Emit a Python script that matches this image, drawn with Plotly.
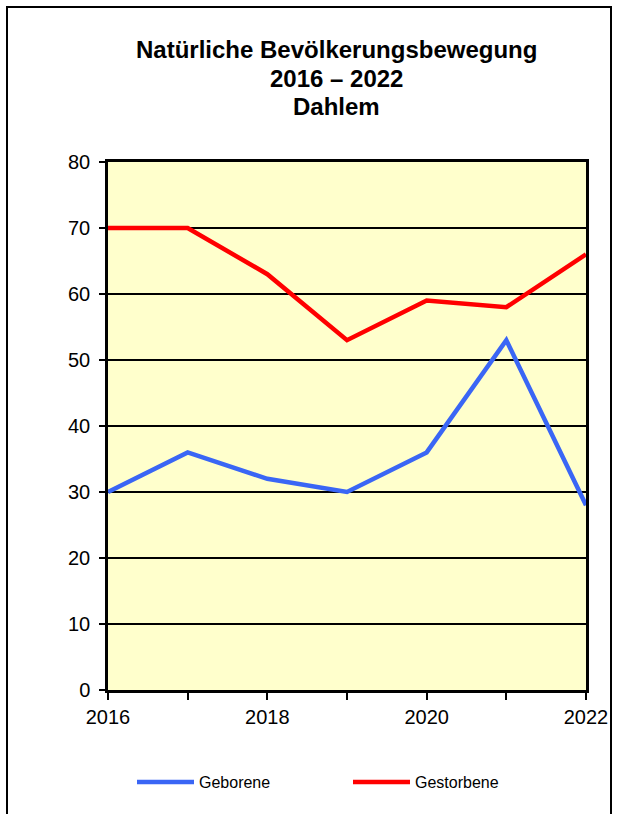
import plotly.graph_objects as go

years = [2016, 2017, 2018, 2019, 2020, 2021, 2022]
geborene = [30, 36, 32, 30, 36, 53, 28]
gestorbene = [70, 70, 63, 53, 59, 58, 66]
title_lines = ["Natürliche Bevölkerungsbewegung", "2016 – 2022", "Dahlem"]
title_y = [50, 79, 107]

W, H = 621, 814
L, R, T, B = 108, 586, 162, 690

fig = go.Figure()
fig.add_trace(go.Scatter(x=years, y=geborene, mode="lines", name="Geborene",
                         line=dict(color="#3A66F5", width=4.5), cliponaxis=False,
                         legend="legend"))
fig.add_trace(go.Scatter(x=years, y=gestorbene, mode="lines", name="Gestorbene",
                         line=dict(color="#FF0000", width=4.5), cliponaxis=False,
                         legend="legend2"))

leg_common = dict(xref="container", yref="container", xanchor="left", yanchor="middle",
                  font=dict(size=16, color="black"), bgcolor="rgba(0,0,0,0)",
                  itemwidth=57, borderwidth=0)
fig.update_layout(
    width=W, height=H,
    margin=dict(l=L, r=W - R, t=T, b=H - B, pad=0, autoexpand=False),
    paper_bgcolor="white", plot_bgcolor="#FFFFCC",
    font=dict(family="Liberation Sans, Arial, sans-serif", color="black", size=20),
    showlegend=True,
    legend=dict(x=132 / W, y=1 - 782 / H, **leg_common),
    legend2=dict(x=348 / W, y=1 - 782 / H, **leg_common),
)
fig.update_xaxes(range=[2016, 2022], tickvals=years,
                 ticktext=[str(y) if y % 2 == 0 else "" for y in years],
                 ticks="outside", ticklen=7, tickwidth=2, tickcolor="black",
                 showgrid=False, showline=True, linecolor="black", linewidth=2.5,
                 mirror=True, zeroline=False, tickfont=dict(size=20),
                 automargin=False, tickangle=0)
fig.update_yaxes(range=[0, 80], dtick=10, ticks="outside", ticklen=6, tickwidth=2,
                 tickcolor="black", showgrid=True, gridcolor="black", gridwidth=1.8,
                 showline=True, linecolor="black", linewidth=2.5, mirror=True,
                 zeroline=False, tickfont=dict(size=20), ticklabelstandoff=5,
                 automargin=False)

for line, py in zip(title_lines, title_y):
    fig.add_annotation(text="<b>" + line + "</b>",
                       xref="paper", yref="paper", x=(336 - L) / (R - L),
                       y=1 + (T - py) / (B - T),
                       xanchor="center", yanchor="middle", showarrow=False,
                       font=dict(size=24, color="black"))

fig.add_shape(type="rect", xref="paper", yref="paper",
              x0=(7 - L) / (R - L), x1=(611 - L) / (R - L),
              y0=(B - 830) / (B - T), y1=1 + (T - 7) / (B - T),
              line=dict(color="black", width=2), fillcolor="rgba(0,0,0,0)", layer="below")

fig.write_html("out.html", config={"displayModeBar": False},
               post_script="document.body.style.margin='0';")
